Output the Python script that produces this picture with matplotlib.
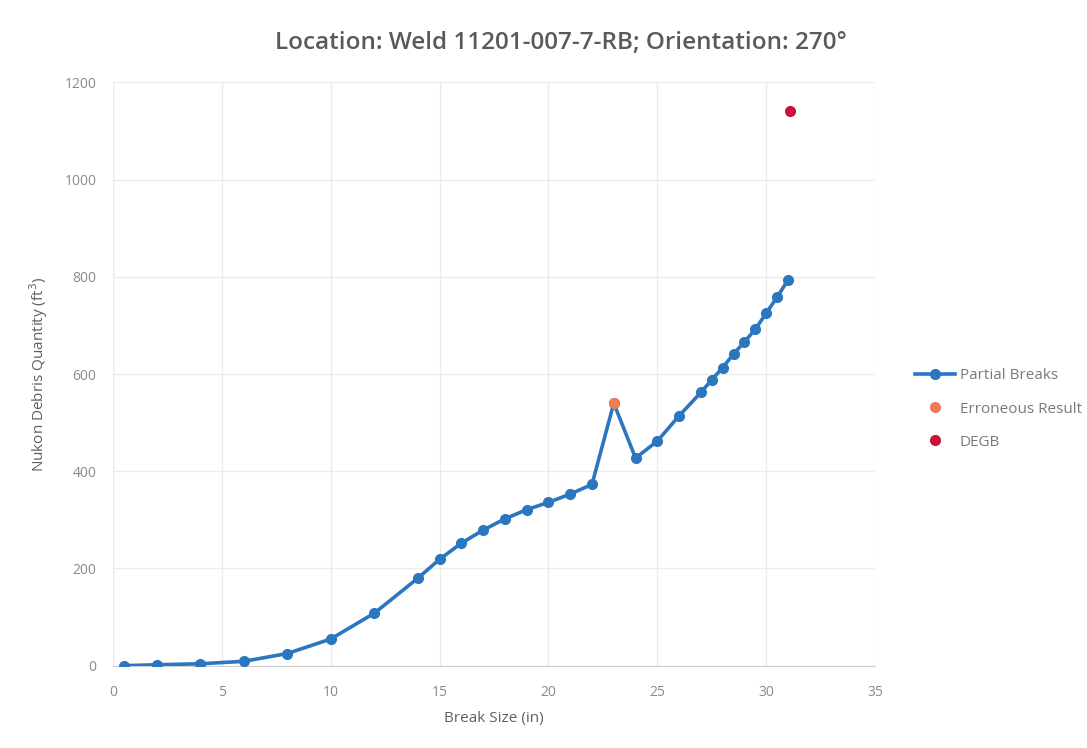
import matplotlib
matplotlib.use("Agg")
import matplotlib.pyplot as plt

# break sizes (in) and debris quantities (ft^3)
partial_x = [0.5, 2, 4, 6, 8, 10, 12, 14, 15, 16, 17, 18, 19, 20, 21, 22, 23,
             24, 25, 26, 27, 27.5, 28, 28.5, 29, 29.5, 30, 30.5, 31]
partial_y = [0, 2, 4, 9, 25, 55, 108, 180, 219, 252, 279, 302, 321, 336, 353, 373, 540,
             427, 462, 514, 562, 588, 613, 641, 666, 692, 725, 758, 793]
erroneous_x = [23]
erroneous_y = [540]
degb_x = [31.1]
degb_y = [1140]

xticks = [0, 5, 10, 15, 20, 25, 30, 35]
yticks = [0, 200, 400, 600, 800, 1000, 1200]

plt.rcParams['font.family'] = ['Open Sans', 'DejaVu Sans']

fig = plt.figure(figsize=(10.87, 7.48), dpi=100)
ax = fig.add_axes([0.104, 0.110, 0.701, 0.780])

ax.plot(partial_x, partial_y, color='#2a77c0', lw=2.6, marker='o', ms=7,
        label='Partial Breaks', zorder=3)
ax.plot(erroneous_x, erroneous_y, ls='none', marker='o', ms=7, color='#f07b55',
        label='Erroneous Result', zorder=4)
ax.plot(degb_x, degb_y, ls='none', marker='o', ms=7, color='#c8123c',
        label='DEGB', zorder=4)

ax.set_xlim(0, 35)
ax.set_ylim(0, 1200)
ax.set_xticks(xticks)
ax.set_yticks(yticks)
ax.grid(True, color='#ebebeb', lw=1)
ax.set_axisbelow(True)
for s in ['top', 'right']:
    ax.spines[s].set_visible(False)
ax.spines['left'].set_color('#e6eef0')
ax.spines['bottom'].set_color('#cfcfcf')
ax.tick_params(axis='x', length=0, colors='#8a8a8a', labelsize=10, pad=14)
ax.tick_params(axis='y', length=0, colors='#8a8a8a', labelsize=10, pad=12)

ax.set_xlabel('Break Size (in)', fontsize=11, color='#606060', labelpad=8)
ax.set_ylabel('Nukon Debris Quantity (ft$^3$)', fontsize=11, color='#606060', labelpad=10)
fig.text(0.516, 0.943, 'Location: Weld 11201-007-7-RB; Orientation: 270°', ha='center',
         va='center', fontsize=17.5, color='#5a5a5a', fontweight='semibold')

ax.legend(loc='center left', bbox_to_anchor=(1.035, 0.44), frameon=False,
          fontsize=11, labelcolor='#7a7a7a', handlelength=2.6, labelspacing=1.2,
          handletextpad=0.3)

fig.savefig('out.png', dpi=100, facecolor='white')
